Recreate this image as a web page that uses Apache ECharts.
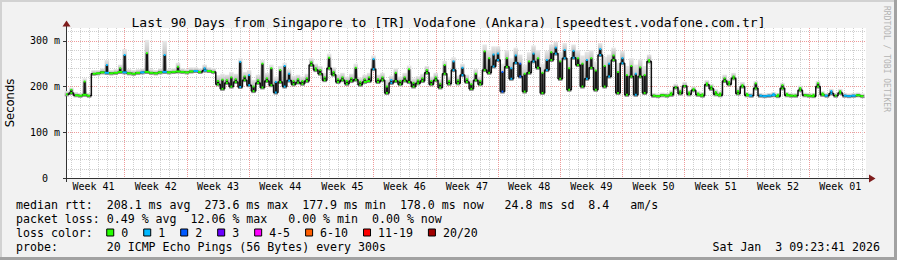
<!DOCTYPE html>
<html>
<head>
<meta charset="utf-8">
<title>SmokePing 90 days</title>
<script src="https://cdn.jsdelivr.net/npm/echarts@6.0.0/dist/echarts.min.js"></script>
<style>
html,body{margin:0;padding:0;background:#f2f2f2;overflow:hidden}
#chart{width:897px;height:260px}
</style>
</head>
<body>
<div id="chart"></div>
<script>
// ---------------- data ----------------
const chartTitle = 'Last 90 Days from Singapore to [TR] Vodafone (Ankara) [speedtest.vodafone.com.tr]';
const weekLabels = ['Week 41','Week 42','Week 43','Week 44','Week 45','Week 46','Week 47','Week 48','Week 49','Week 50','Week 51','Week 52','Week 01'];
const yTickValues = [0, 100, 200, 300];
const yTickLabels = ['0', '100 m', '200 m', '300 m'];
const xRangeDays = [0.4, 90.4];       // days counted from Monday of week 41
const firstSampleDay = 0.5;
const sampleStepDay = 0.5;

// median round trip time (ms), one value per half day
const medianRtt = [
183,186,181,180,182,180,
228,229,231,230,229,230,232,231,229,228,230,231,232,230,229,231,232,231,232,233,232,231,233,234,232,235,234,232,
205,195,208,200,210,199,214,203,190,208,198,212,203,187,210,200,213,205,
209,206,212,247,236,228,214,240,226,210,214,206,212,215,204,210,212,238,210,214,186,208,212,205,213,210,200,207,212,230,205,214,198,228,206,236,207,225,210,195,214,205,
236,230,244,258,189,243,217,252,222,189,230,255,241,186,236,258,272,217,262,193,263,247,200,217,241,193,269,200,222,258,186,251,182,222,182,222,186,255,
180,179,181,180,182,198,185,201,183,192,182,180,204,195,183,181,212,205,218,185,200,181,180,196,180,179,180,181,179,196,181,180,180,192,181,180,179,200,182,180,185,180,186,180,179,180,181,179
];
// top of the dark (dense) smoke / median spikes (ms)
const darkTop = [
183,193,181,180,211,180,
228,229,231,247,229,230,240,269,229,228,230,231,273,230,229,231,269,231,232,243,232,231,233,234,232,240,234,232,
212,215,214,220,216,254,222,225,200,214,250,218,240,210,236,245,228,212,
216,212,218,253,240,236,220,263,232,216,220,212,218,241,210,216,220,260,216,220,200,214,230,212,220,238,208,213,218,236,212,220,206,247,212,255,214,241,216,205,228,212,
277,262,270,272,232,262,240,268,250,228,255,272,262,230,258,275,285,255,280,240,278,262,250,258,262,235,282,245,250,268,232,262,225,245,228,242,225,258,
182,181,183,182,186,200,190,203,187,195,185,183,207,200,188,185,218,210,222,190,203,184,182,207,182,181,182,184,182,203,184,182,182,197,183,182,182,207,185,182,190,182,190,182,181,182,183,181
];
// top of the light smoke (ms)
const smokeTop = [
190,198,188,186,218,186,
236,236,240,258,236,238,248,282,238,236,238,240,302,238,236,240,300,238,240,252,240,238,242,242,240,248,242,240,
225,228,226,232,228,262,232,236,215,226,258,230,248,222,245,252,238,224,
226,222,228,262,250,245,230,272,242,226,230,222,228,250,220,226,230,268,226,230,215,224,240,222,230,246,218,223,228,245,222,230,216,256,222,264,224,250,226,215,238,222,
292,280,288,288,250,280,262,285,270,248,275,290,280,250,278,292,298,275,295,262,292,280,268,276,280,255,295,265,270,285,252,278,245,262,248,260,245,270,
186,185,187,186,192,206,196,210,192,200,190,188,214,206,194,190,226,216,230,198,210,188,186,212,186,185,186,188,186,208,188,186,186,202,187,186,186,212,190,186,195,186,195,186,185,186,187,185
];
// loss class per sample (index into lossColors)
const lossLevel = [
0,0,0,0,0,0,0,0,0,1,
0,0,0,1,0,0,0,1,0,0,
0,0,1,0,0,0,0,0,0,1,
0,1,0,0,0,0,0,0,0,1,
0,1,0,0,0,0,0,1,0,1,
1,0,0,0,0,0,0,0,0,0,
0,0,0,0,0,0,0,0,0,1,
0,0,0,1,0,0,0,0,0,0,
0,0,0,0,0,0,0,1,0,1,
0,0,0,0,0,0,1,1,2,0,
1,1,2,0,0,1,0,0,1,0,
1,0,1,0,1,0,0,1,0,0,
1,0,1,0,0,1,0,0,1,0,
0,0,0,0,0,0,0,0,0,0,
0,0,0,0,0,0,0,0,0,0,
0,0,0,0,1,0,1,1,1,1,
0,0,0,0,0,0,0,0,0,0,
0,1,1,0,0,1,1,1,0,0
];
const lossLabels = ['0','1','2','3','4-5','6-10','11-19','20/20'];
const lossColors = ['#26ff00','#00b8ff','#0059ff','#6a00ff','#ff00ff','#ff5e00','#ff0000','#a10000'];

const statsLines = [
  'median rtt:  208.1 ms avg  273.6 ms max  177.9 ms min  178.0 ms now   24.8 ms sd  8.4   am/s',
  'packet loss: 0.49 % avg  12.06 % max   0.00 % min  0.00 % now'
];
const lossColorCaption = 'loss color:';
const probeLine = 'probe:       20 ICMP Echo Pings (56 Bytes) every 300s';
const dateStamp = 'Sat Jan  3 09:23:41 2026';
const watermark = 'RRDTOOL / TOBI OETIKER';
const yAxisTitle = 'Seconds';

// ---------------- layout ----------------
const MONO = '"DejaVu Sans Mono", monospace';
const GRID = {left: 66, top: 28, width: 800, height: 150};
const CHAR_W = 6.98;          // advance of the 11.6px mono legend font
const legendY = [204.5, 218.5, 232.5, 246.5];
const FLAT_MS = 2.5;          // neighbouring medians this close are drawn as one continuous line

// gridline positions
const dayLines = []; for (let d = 1; d <= 90; d++) dayLines.push(d);
const weekStarts = []; for (let k = 1; k <= 12; k++) weekStarts.push(7 * k);
const weekMids = weekLabels.map((_, k) => 3.5 + 7 * k);
const minorY = []; for (let v = 0; v <= 320; v += 20) minorY.push(v);

const pts = medianRtt.map((m, i) => [firstSampleDay + i * sampleStepDay, m, darkTop[i], smokeTop[i], lossLevel[i]]);

const chart = echarts.init(document.getElementById('chart'), null, {renderer: 'svg', width: 897, height: 260});

const dotted = (c) => ({color: c, width: 1, type: [1, 1]});
const AXIS_C = '#333333';
const ARROW_C = '#7f1d1d';
const LEG_FONT = '11.6px ' + MONO;

const graphics = [
  {type: 'rect', shape: {x: 0, y: 0, width: 897, height: 2}, style: {fill: '#d2d2d2'}, silent: true},
  {type: 'rect', shape: {x: 0, y: 0, width: 2, height: 260}, style: {fill: '#d2d2d2'}, silent: true},
  {type: 'rect', shape: {x: 894, y: 0, width: 3, height: 260}, style: {fill: '#a2a2a2'}, silent: true},
  {type: 'rect', shape: {x: 0, y: 257, width: 897, height: 3}, style: {fill: '#a2a2a2'}, silent: true},
  {type: 'line', shape: {x1: 66.5, y1: 28, x2: 66.5, y2: 24}, style: {stroke: AXIS_C, lineWidth: 1}, silent: true},
  {type: 'line', shape: {x1: 66.5, y1: 178, x2: 66.5, y2: 182}, style: {stroke: AXIS_C, lineWidth: 1}, silent: true},
  {type: 'line', shape: {x1: 866, y1: 178.5, x2: 870, y2: 178.5}, style: {stroke: AXIS_C, lineWidth: 1}, silent: true},
  {type: 'polygon', shape: {points: [[62.5, 26.5], [70.5, 26.5], [66.5, 20.5]]}, style: {fill: ARROW_C}, silent: true},
  {type: 'polygon', shape: {points: [[869, 174.5], [869, 182.5], [875.5, 178.5]]}, style: {fill: ARROW_C}, silent: true},
  {type: 'text', x: 10, y: 103, rotation: Math.PI / 2, silent: true,
   style: {text: yAxisTitle, fill: '#000', font: '11.6px "DejaVu Sans", sans-serif', align: 'center', verticalAlign: 'middle', textAlign: 'center', textVerticalAlign: 'middle'}},
  {type: 'text', x: 886, y: 59, rotation: -Math.PI / 2, silent: true,
   style: {text: watermark, fill: '#b4b4b4', font: '8px ' + MONO, align: 'center', verticalAlign: 'middle', textAlign: 'center', textVerticalAlign: 'middle'}},
];
statsLines.forEach((t, k) => graphics.push({type: 'text', x: 16, y: legendY[k], silent: true,
  style: {text: t, fill: '#000', font: LEG_FONT, verticalAlign: 'middle', textVerticalAlign: 'middle'}}));
graphics.push({type: 'text', x: 16, y: legendY[2], silent: true,
  style: {text: lossColorCaption, fill: '#000', font: LEG_FONT, verticalAlign: 'middle', textVerticalAlign: 'middle'}});
// legend entries: box, gap, label, gap
let boxX = 16 + 13 * CHAR_W - 0.5;
lossLabels.forEach((lab, k) => {
  graphics.push({type: 'rect', shape: {x: boxX + 0.5, y: legendY[2] - 3.5, width: 7, height: 7},
    style: {fill: lossColors[k], stroke: '#000', lineWidth: 1}, silent: true});
  graphics.push({type: 'text', x: boxX + 15, y: legendY[2], silent: true,
    style: {text: lab, fill: '#000', font: LEG_FONT, verticalAlign: 'middle', textVerticalAlign: 'middle'}});
  boxX += 15 + lab.length * CHAR_W + 15;
});
graphics.push({type: 'text', x: 16, y: legendY[3], silent: true,
  style: {text: probeLine, fill: '#000', font: LEG_FONT, verticalAlign: 'middle', textVerticalAlign: 'middle'}});
graphics.push({type: 'text', x: 880, y: legendY[3], silent: true,
  style: {text: dateStamp, fill: '#000', font: LEG_FONT, align: 'right', textAlign: 'right', verticalAlign: 'middle', textVerticalAlign: 'middle'}});

const option = {
  animation: false,
  backgroundColor: '#f2f2f2',
  title: {
    text: chartTitle, left: 'center', top: 11,
    textStyle: {fontFamily: MONO, fontSize: 13, fontWeight: 'normal', color: '#000'}
  },
  grid: Object.assign({show: true, backgroundColor: '#ffffff', borderWidth: 0, containLabel: false, outerBoundsMode: 'none'}, GRID),
  xAxis: [
    { type: 'value', min: xRangeDays[0], max: xRangeDays[1], position: 'bottom',
      axisLine: {show: true, onZero: false, lineStyle: {color: AXIS_C, width: 1}},
      axisTick: {show: false, customValues: dayLines},
      axisLabel: {show: false},
      splitLine: {show: true, lineStyle: dotted('#cfcfcf')} },
    { type: 'value', min: xRangeDays[0], max: xRangeDays[1], position: 'bottom',
      axisLine: {show: false},
      axisTick: {show: false, customValues: weekStarts},
      axisLabel: {show: true, customValues: weekMids, margin: 3,
        fontFamily: MONO, fontSize: 10, color: '#000',
        formatter: (v) => weekLabels[Math.round((v - 3.5) / 7)] || ''},
      splitLine: {show: true, lineStyle: dotted('#ee9a9a')} }
  ],
  yAxis: [
    { type: 'value', min: 0, max: 328, position: 'left',
      axisLine: {show: true, onZero: false, lineStyle: {color: AXIS_C, width: 1}},
      axisTick: {show: false, customValues: minorY},
      axisLabel: {show: false},
      splitLine: {show: true, lineStyle: dotted('#cfcfcf')} },
    { type: 'value', min: 0, max: 328, position: 'left',
      axisLine: {show: false},
      axisTick: {show: true, length: 3, customValues: yTickValues, lineStyle: {color: AXIS_C}},
      axisLabel: {show: true, customValues: yTickValues, margin: 6,
        fontFamily: MONO, fontSize: 10, color: '#000',
        formatter: (v) => { const k = yTickValues.indexOf(v); return v === 0 ? '{z|' + yTickLabels[k] + '}' : yTickLabels[k]; },
        rich: {z: {fontFamily: MONO, fontSize: 10, color: '#000', padding: [0, 12, 0, 0]}}},
      splitLine: {show: true, lineStyle: dotted('#ee9a9a')} }
  ],
  series: [
    { // light smoke
      type: 'custom', xAxisIndex: 0, yAxisIndex: 0, data: pts, silent: true, z: 1,
      encode: {x: 0, y: [1, 3]},
      renderItem: (params, api) => {
        const x = api.value(0);
        const top = api.coord([x, api.value(3)]);
        const bot = api.coord([x, api.value(1)]);
        const w = api.size([sampleStepDay, 0])[0];
        return {type: 'rect', shape: {x: top[0] - w / 2, y: top[1], width: w, height: Math.max(0, bot[1] - top[1] + 2)},
          style: {fill: {type: 'linear', x: 0, y: 0, x2: 0, y2: 1, colorStops: [{offset: 0, color: '#e8e8e8'}, {offset: 0.6, color: '#b0b0b0'}, {offset: 1, color: '#808080'}]}}};
      }
    },
    { // median line (dark, stepped)
      type: 'line', xAxisIndex: 0, yAxisIndex: 0, data: pts, encode: {x: 0, y: 1},
      step: 'middle', symbol: 'none', silent: true, z: 2,
      lineStyle: {color: '#111111', width: 1.5}
    },
    { // dense smoke / spikes
      type: 'custom', xAxisIndex: 0, yAxisIndex: 0, data: pts, silent: true, z: 3,
      encode: {x: 0, y: [1, 2]},
      renderItem: (params, api) => {
        const x = api.value(0);
        const top = api.coord([x, api.value(2)]);
        const bot = api.coord([x, api.value(1)]);
        return {type: 'rect', shape: {x: top[0] - 1.2, y: top[1], width: 2.4, height: Math.max(0, bot[1] - top[1])},
          style: {fill: '#151515'}};
      }
    },
    { // loss-coloured median marks
      type: 'custom', xAxisIndex: 0, yAxisIndex: 0, data: pts, silent: true, z: 4,
      encode: {x: 0, y: 1},
      renderItem: (params, api) => {
        const i = params.dataIndex;
        const x = api.value(0);
        const med = api.value(1);
        const m = api.coord([x, med]);
        const t = api.coord([x, api.value(2)]);
        const w = api.size([sampleStepDay, 0])[0];
        const c = lossColors[api.value(4)];
        const flatL = i > 0 && Math.abs(medianRtt[i - 1] - med) <= FLAT_MS;
        const flatR = i < medianRtt.length - 1 && Math.abs(medianRtt[i + 1] - med) <= FLAT_MS;
        const x0 = flatL ? m[0] - w / 2 : m[0] - 0.9;
        const x1 = flatR ? m[0] + w / 2 : m[0] + 0.9;
        const children = [{type: 'rect', shape: {x: x0, y: m[1] - 1, width: x1 - x0, height: 2}, style: {fill: c}}];
        if (api.value(2) > med + 2) {
          children.push({type: 'rect', shape: {x: t[0] - 0.9, y: t[1] - 1, width: 1.8, height: 2}, style: {fill: c}});
        }
        return {type: 'group', children};
      }
    }
  ],
  graphic: {elements: graphics}
};
chart.setOption(option);
</script>
</body>
</html>
